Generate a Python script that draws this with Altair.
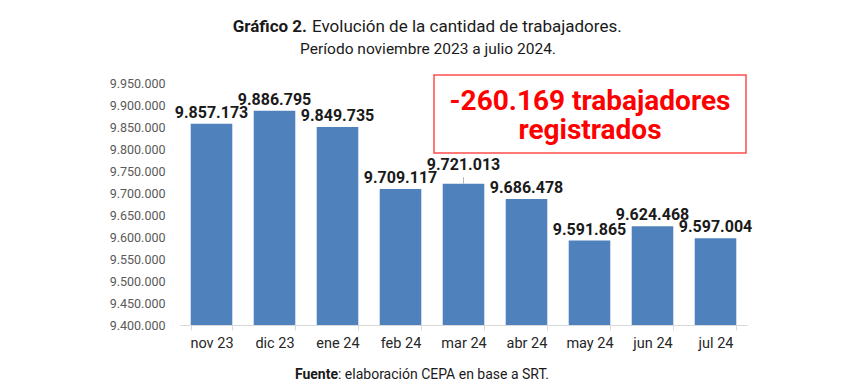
import altair as alt
import pandas as pd

months = ["nov 23", "dic 23", "ene 24", "feb 24", "mar 24", "abr 24", "may 24", "jun 24", "jul 24"]
workers = [9857173, 9886795, 9849735, 9709117, 9721013, 9686478, 9591865, 9624468, 9597004]
y_ticks = [9400000, 9450000, 9500000, 9550000, 9600000, 9650000, 9700000,
           9750000, 9800000, 9850000, 9900000, 9950000]
raised_label = "mar 24"

title_bold = "Gráfico 2."
title_rest = "Evolución de la cantidad de trabajadores."
subtitle = "Período noviembre 2023 a julio 2024."
source_bold = "Fuente"
source_rest = ": elaboración CEPA en base a SRT."
callout = ["-260.169 trabajadores", "registrados"]

df = pd.DataFrame({
    "mes": months,
    "trabajadores": workers,
    "etiqueta": [f"{v:,}".replace(",", ".") for v in workers],
})

FONT = "Roboto"
BLUE = "#4f81bd"
RED = "#ff0000"

x = alt.X("mes:N", sort=months, title=None,
          scale=alt.Scale(paddingInner=0.34, paddingOuter=0.17),
          axis=alt.Axis(labelAngle=0, labelFont=FONT, labelFontSize=14.5,
                        labelColor="#262626", labelPadding=6, tickBand="extent",
                        tickSize=5, tickColor="#d9d9d9", domainColor="#d9d9d9",
                        domainWidth=1, grid=False))
y = alt.Y("trabajadores:Q", title=None,
          scale=alt.Scale(domain=[9400000, 9950000], nice=False, zero=False),
          axis=alt.Axis(values=y_ticks, ticks=False, domain=False, grid=False,
                        labelOverlap=False,
                        labelFont=FONT, labelFontSize=12.5, labelColor="#595959",
                        labelPadding=15,
                        labelExpr="replace(format(datum.value, ','), /,/g, '.')"))

base = alt.Chart(df)
bars = base.mark_bar(color=BLUE, clip=True).encode(x=x, y=y)
label_style = dict(font=FONT, fontSize=16, fontWeight="bold", color="#1a1a1a",
                   baseline="alphabetic")
labels = base.transform_filter(alt.datum.mes != raised_label).mark_text(
    dy=-6, **label_style).encode(x=x, y=y, text="etiqueta:N")
labels_raised = base.transform_filter(alt.datum.mes == raised_label).mark_text(
    dy=-14, **label_style).encode(x=x, y=y, text="etiqueta:N")
leader = base.transform_filter(alt.datum.mes == raised_label).transform_calculate(
    top="datum.trabajadores + 15000").mark_rule(color="#a6a6a6", strokeWidth=0.8).encode(
    x=x, y=y, y2="top:Q")

one = alt.Data(values=[{"k": 1}])

def txt(s, xp, yp, size, weight="normal", align="center", color="#1a1a1a"):
    return alt.Chart(one).mark_text(text=s, font=FONT, fontSize=size, fontWeight=weight,
                                     align=align, baseline="alphabetic", color=color).encode(
        x=alt.value(xp), y=alt.value(yp))

box = alt.Chart(one).mark_rect(fill="white", stroke="#ff4d4d", strokeWidth=1.5).encode(
    x=alt.value(254), x2=alt.value(566), y=alt.value(-8), y2=alt.value(70))

layers = [
    bars, leader, labels, labels_raised, box,
    txt(callout[0], 410, 27, 28, "bold", "center", RED),
    txt(callout[1], 410, 56, 28, "bold", "center", RED),
    txt(title_bold, 127, -51, 17, "bold", "right"),
    txt(title_rest, 132, -51, 17, "normal", "left"),
    txt(subtitle, 248, -29, 15.5, "normal", "center"),
    txt(source_bold, 158, 296, 14, "bold", "right"),
    txt(source_rest, 158, 296, 14, "normal", "left"),
]

chart = alt.layer(*layers).properties(
    width=567, height=242,
    autosize=alt.AutoSizeParams(type="none"),
    padding={"left": 172, "top": 75, "right": 107, "bottom": 57},
).configure(background="white").configure_view(stroke=None)

chart.save("out.html", embed_options={"renderer": "svg", "actions": False})
